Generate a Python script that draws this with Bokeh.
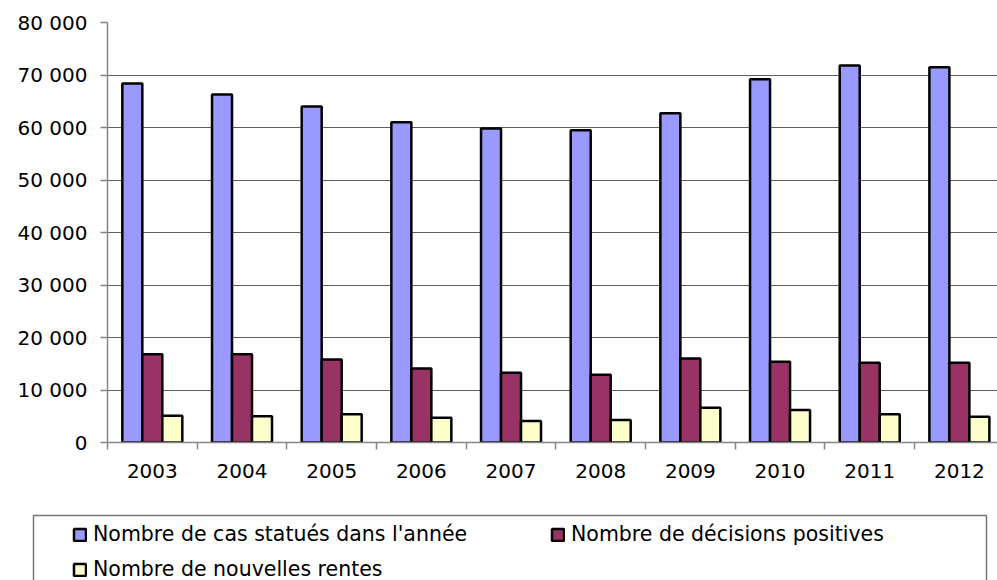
from bokeh.plotting import figure
from bokeh.layouts import column
from bokeh.models import (ColumnDataSource, Range1d, FixedTicker, Legend, LegendItem,
                          BoxAnnotation)
from bokeh.transform import dodge
from bokeh.embed import file_html
from bokeh.resources import INLINE

years = ["2003", "2004", "2005", "2006", "2007", "2008", "2009", "2010", "2011", "2012"]
cas_statues = [68400, 66300, 64000, 61000, 59800, 59500, 62700, 69200, 71800, 71500]
decisions_positives = [16800, 16800, 15800, 14100, 13300, 12900, 16000, 15400, 15200, 15200]
nouvelles_rentes = [5100, 5000, 5400, 4700, 4100, 4300, 6600, 6200, 5400, 4900]

series_names = ["Nombre de cas statués dans l'année",
                "Nombre de décisions positives",
                "Nombre de nouvelles rentes"]
series_colors = ["#9999FF", "#993366", "#FFFFCC"]

y_ticks = [0, 10000, 20000, 30000, 40000, 50000, 60000, 70000, 80000]
y_tick_labels = ["0", "10 000", "20 000", "30 000", "40 000", "50 000", "60 000", "70 000", "80 000"]

FONT = "DejaVu Sans"

centers = [i + 0.5 for i in range(len(years))]
src = ColumnDataSource(dict(x=centers, year=years, a=cas_statues,
                            b=decisions_positives, c=nouvelles_rentes))

p = figure(width=997, height=508, output_backend="svg", toolbar_location=None,
           x_range=Range1d(0, 9.925), y_range=Range1d(0, 80000),
           min_border_left=107, min_border_right=0, min_border_top=22, min_border_bottom=66)
p.outline_line_color = None
p.background_fill_color = "white"

bw = 0.223
offs = [-bw, 0.0, bw]
keys = ["a", "b", "c"]
for col, off, color in zip(keys, offs, series_colors):
    p.vbar(x=dodge("x", off, range=p.x_range), top=col, width=bw, bottom=0, source=src,
           fill_color=color, line_color="black", line_width=2.5)

# y axis
yax = p.yaxis[0]
yax.ticker = FixedTicker(ticks=y_ticks)
yax.major_label_overrides = {t: l for t, l in zip(y_ticks, y_tick_labels)}
yax.axis_line_color = "#868686"
yax.axis_line_width = 1.5
yax.major_tick_line_color = "#868686"
yax.major_tick_line_width = 1.5
yax.major_tick_out = 7
yax.major_tick_in = 0
yax.minor_tick_line_color = None
yax.major_label_standoff = 13
yax.major_label_text_font = FONT
yax.major_label_text_font_size = "20px"
yax.major_label_text_color = "black"

# x axis
xax = p.xaxis[0]
xax.ticker = FixedTicker(ticks=centers, minor_ticks=list(range(0, 11)))
xax.major_label_overrides = {c: y for c, y in zip(centers, years)}
xax.axis_line_color = "#868686"
xax.axis_line_width = 1.5
xax.major_tick_line_color = None
xax.major_tick_out = 7
xax.major_tick_in = 0
xax.minor_tick_line_color = "#868686"
xax.minor_tick_line_width = 1.5
xax.minor_tick_out = 7
xax.minor_tick_in = 0
xax.major_label_standoff = 14
xax.major_label_text_font = FONT
xax.major_label_text_font_size = "20px"
xax.major_label_text_color = "black"

p.xgrid.visible = False
p.ygrid[0].ticker = FixedTicker(ticks=y_ticks[1:-1])
p.ygrid[0].grid_line_color = "#5f5f5f"
p.ygrid[0].grid_line_width = 1.2

# legend strip
pl = figure(width=997, height=72, output_backend="svg", toolbar_location=None,
            x_range=Range1d(0, 997), y_range=Range1d(72, 0),
            x_axis_type=None, y_axis_type=None,
            min_border_left=0, min_border_right=0, min_border_top=0, min_border_bottom=0)
pl.outline_line_color = None
pl.grid.visible = False
for fig in (p, pl):
    if "frame_align" in fig.properties():
        fig.frame_align = False

legend_renderers = []
for col, color in zip(keys, series_colors):
    r = pl.vbar(x="x", top=col, width=bw, source=src, fill_color=color,
                line_color="black", line_width=2.5, visible=False)
    legend_renderers.append(r)

box = BoxAnnotation(left=33, right=986, top=7, bottom=120,
                    fill_color=None, fill_alpha=0, line_color="#777777", line_alpha=1.0,
                    line_width=1.5)
pl.add_layout(box)

items = [LegendItem(label=n, renderers=[r]) for n, r in zip(series_names, legend_renderers)]
legend = Legend(items=items, location=(72, -1), orientation="horizontal", ncols=2,
                border_line_color=None, background_fill_alpha=0, padding=0, margin=0,
                spacing=11, glyph_width=15, glyph_height=15, label_standoff=6,
                label_width=446, label_height=20, inactive_fill_alpha=0,
                label_text_font=FONT, label_text_font_size="20.5px", label_text_color="black")
pl.add_layout(legend, "center")

layout = column(p, pl, spacing=0)
open("out.html", "w").write(file_html(layout, INLINE))
